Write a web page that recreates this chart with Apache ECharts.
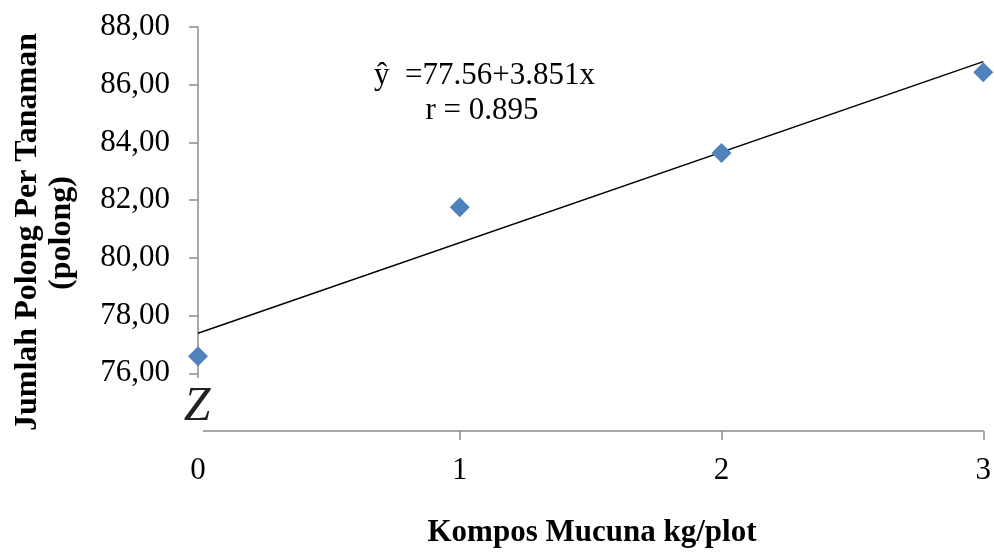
<!DOCTYPE html>
<html><head><meta charset="utf-8">
<script src="https://cdn.jsdelivr.net/npm/echarts@6/dist/echarts.min.js"></script>
<style>html,body{margin:0;padding:0;background:#fff}#c{width:994px;height:552px}</style>
</head><body><div id="c"></div>
<script>
const xValues = [0, 1, 2, 3];
const yValues = [76.59, 81.75, 83.63, 86.43];
const trendX = [0, 3];
const trendY = [77.39, 86.80];
const yTicks = [74, 76, 78, 80, 82, 84, 86, 88];
const xTicks = [0, 1, 2, 3];
const equationText = 'ŷ  =77.56+3.851x';
const rText = 'r = 0.895';
const xTitle = 'Kompos Mucuna kg/plot';
const yTitle1 = 'Jumlah Polong Per Tanaman';
const yTitle2 = '(polong)';

const font = '"Liberation Serif","Times New Roman",serif';
const fs = 31;
const chart = echarts.init(document.getElementById('c'));
chart.setOption({
  animation: false,
  grid: {left: 198, right: 9, top: 27, bottom: 121},
  xAxis: {
    type: 'value', min: xTicks[0], max: xTicks[xTicks.length-1], interval: 1,
    axisLine: {lineStyle: {color: '#8c8c8c', width: 1.5}},
    axisTick: {show: true, length: 9, lineStyle: {color: '#8c8c8c', width: 1.5}},
    splitLine: {show: false},
    axisLabel: {fontFamily: font, fontSize: fs, color: '#000', margin: 24}
  },
  yAxis: {
    type: 'value', min: yTicks[0], max: yTicks[yTicks.length-1], interval: 2,
    axisLine: {show: true, lineStyle: {color: '#8c8c8c', width: 1.5}},
    axisTick: {show: true, length: 9, lineStyle: {color: '#8c8c8c', width: 1.5}},
    splitLine: {show: false},
    axisLabel: {fontFamily: font, fontSize: fs, color: '#000', margin: 28,
      formatter: v => v === yTicks[0] ? '' : v.toFixed(2).replace('.', ',')}
  },
  series: [
    {type: 'line', data: trendX.map((x, i) => [x, trendY[i]]), symbol: 'none',
     lineStyle: {color: '#000', width: 1.5}, z: 2},
    {type: 'scatter', data: xValues.map((x, i) => [x, yValues[i]]), symbol: 'diamond',
     symbolSize: 20, itemStyle: {color: '#4f81bd', opacity: 1}, z: 3}
  ],
  graphic: [
    {type: 'rect', shape: {x: 178, y: 378, width: 25, height: 66}, style: {fill: '#fff'}, z: 100},
    {type: 'text', x: 197, y: 407, style: {text: 'Z', font: 'italic 48px ' + font, fill: '#222', align: 'center', verticalAlign: 'middle'}, z: 101},
    {type: 'text', x: 374, y: 76, style: {text: equationText, font: fs + 'px ' + font, fill: '#000', verticalAlign: 'middle'}, z: 50},
    {type: 'text', x: 482, y: 111, style: {text: rText, font: fs + 'px ' + font, fill: '#000', align: 'center', verticalAlign: 'middle'}, z: 50},
    {type: 'text', x: 592, y: 533, style: {text: xTitle, font: 'bold ' + fs + 'px ' + font, fill: '#000', align: 'center', verticalAlign: 'middle'}},
    {type: 'text', x: 28, y: 232, rotation: Math.PI/2, style: {text: yTitle1, font: 'bold 32px ' + font, fill: '#000', align: 'center', verticalAlign: 'middle'}},
    {type: 'text', x: 62, y: 233, rotation: Math.PI/2, style: {text: yTitle2, font: 'bold 32px ' + font, fill: '#000', align: 'center', verticalAlign: 'middle'}}
  ]
});
</script></body></html>
